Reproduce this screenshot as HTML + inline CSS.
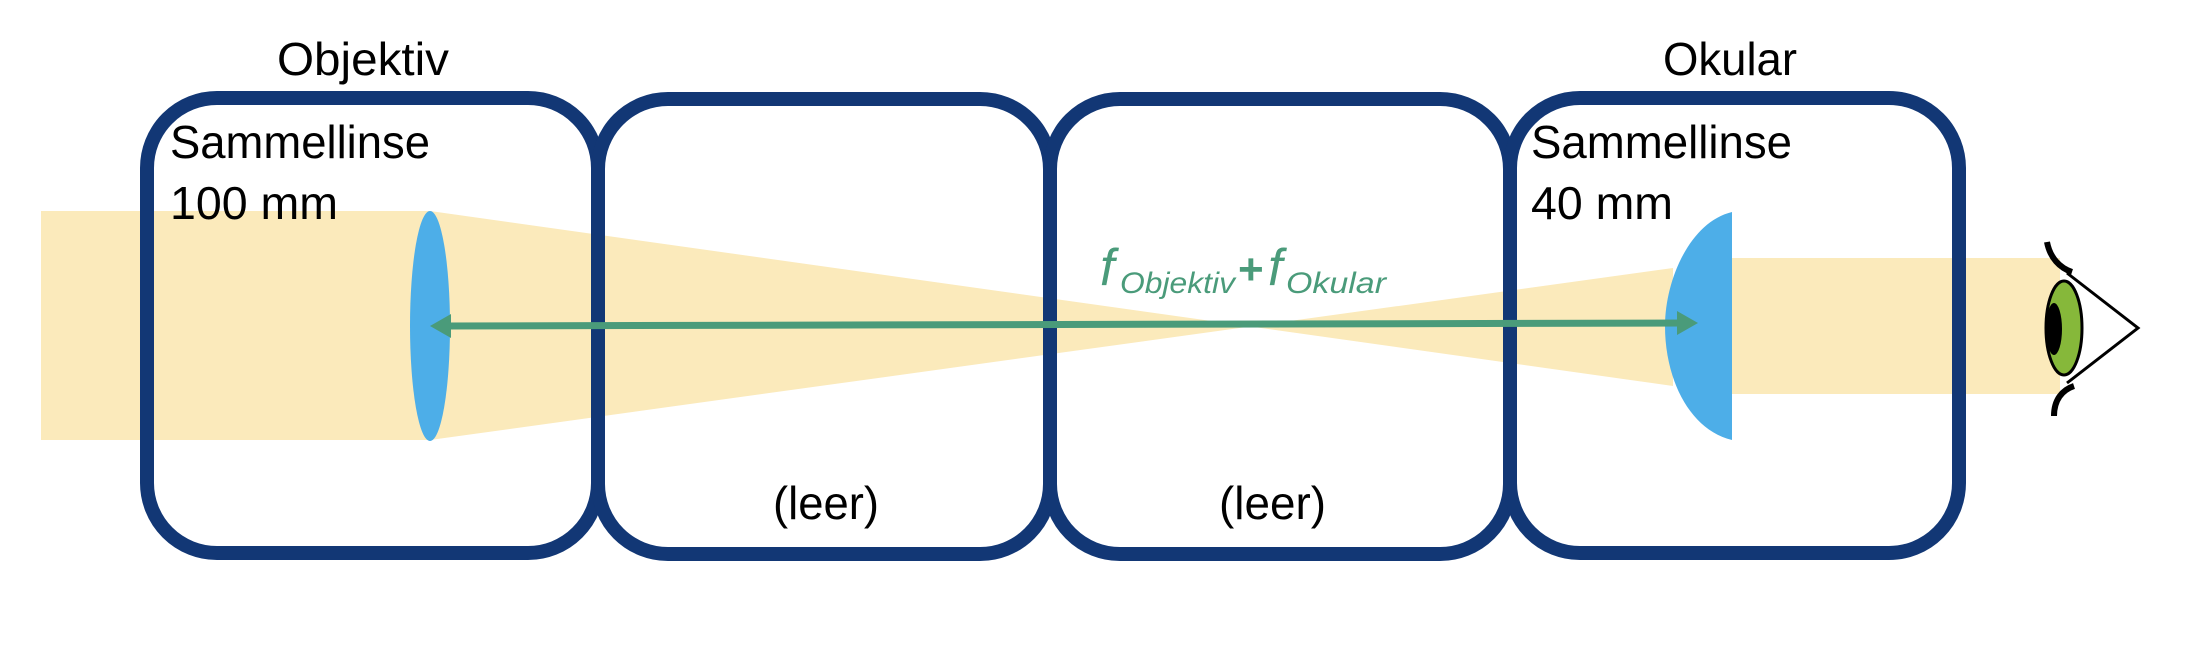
<!DOCTYPE html>
<html><head><meta charset="utf-8"><style>
html,body{margin:0;padding:0;background:#fff;}
svg{display:block;}
text{font-family:"Liberation Sans",sans-serif;}
</style></head><body>
<svg width="2212" height="656" viewBox="0 0 2212 656" xmlns="http://www.w3.org/2000/svg">
<!-- beam -->
<rect x="41" y="211" width="389" height="229" fill="#fbeabb"/>
<polygon points="430,211 1673,386 1673,268 430,440" fill="#fbeabb"/>
<rect x="1725" y="258" width="335" height="136" fill="#fbeabb"/>
<!-- boxes -->
<g fill="none" stroke="#123775" stroke-width="14">
<rect x="147" y="98" width="451" height="455" rx="70" ry="70"/>
<rect x="598" y="99" width="452" height="455" rx="70" ry="70"/>
<rect x="1050" y="99" width="460" height="455" rx="70" ry="70"/>
<rect x="1510" y="98" width="449" height="455" rx="70" ry="70"/>
</g>
<!-- lenses -->
<ellipse cx="430" cy="326" rx="20" ry="115" fill="#4daee8"/>
<path d="M1732,212 C1690,222 1665,280 1665,326 C1665,380 1690,430 1732,440 Z" fill="#4daee8"/>
<!-- arrow -->
<line x1="445" y1="326" x2="1685" y2="323" stroke="#4a9b7a" stroke-width="7"/>
<polygon points="430,326 451,314 451,338" fill="#4a9b7a"/>
<polygon points="1698,323 1677,311 1677,335" fill="#4a9b7a"/>
<!-- formula -->
<g fill="#4a9b7a" font-style="italic">
<text x="1100" y="285" font-size="52">f</text>
<text x="1120" y="293" font-size="30" textLength="115" lengthAdjust="spacingAndGlyphs">Objektiv</text>
<text x="1238" y="284" font-size="44" font-weight="bold" font-style="normal">+</text>
<text x="1268" y="285" font-size="52">f</text>
<text x="1286" y="293" font-size="30" textLength="100" lengthAdjust="spacingAndGlyphs">Okular</text>
</g>
<!-- labels -->
<g fill="#000" font-size="46">
<text x="277" y="75" textLength="172" lengthAdjust="spacingAndGlyphs">Objektiv</text>
<text x="1663" y="75" textLength="134" lengthAdjust="spacingAndGlyphs">Okular</text>
<text x="170" y="158" textLength="260" lengthAdjust="spacingAndGlyphs">Sammellinse</text>
<text x="170" y="219" textLength="168" lengthAdjust="spacingAndGlyphs">100 mm</text>
<text x="1531" y="158" textLength="261" lengthAdjust="spacingAndGlyphs">Sammellinse</text>
<text x="1531" y="219" textLength="142" lengthAdjust="spacingAndGlyphs">40 mm</text>
<text x="773" y="519" textLength="106" lengthAdjust="spacingAndGlyphs">(leer)</text>
<text x="1219" y="519" textLength="107" lengthAdjust="spacingAndGlyphs">(leer)</text>
</g>
<!-- eye -->
<ellipse cx="2064" cy="328" rx="18" ry="47" fill="#86b83a" stroke="#000" stroke-width="3"/>
<ellipse cx="2054" cy="329" rx="8" ry="26" fill="#000"/>
<polyline points="2067,273 2138,328 2067,383" fill="none" stroke="#000" stroke-width="3"/>
<path d="M2047,242 C2050,258 2060,268 2072,272" fill="none" stroke="#000" stroke-width="6"/>
<path d="M2074,386 C2062,390 2054,400 2054,416" fill="none" stroke="#000" stroke-width="6"/>
</svg>
</body></html>
